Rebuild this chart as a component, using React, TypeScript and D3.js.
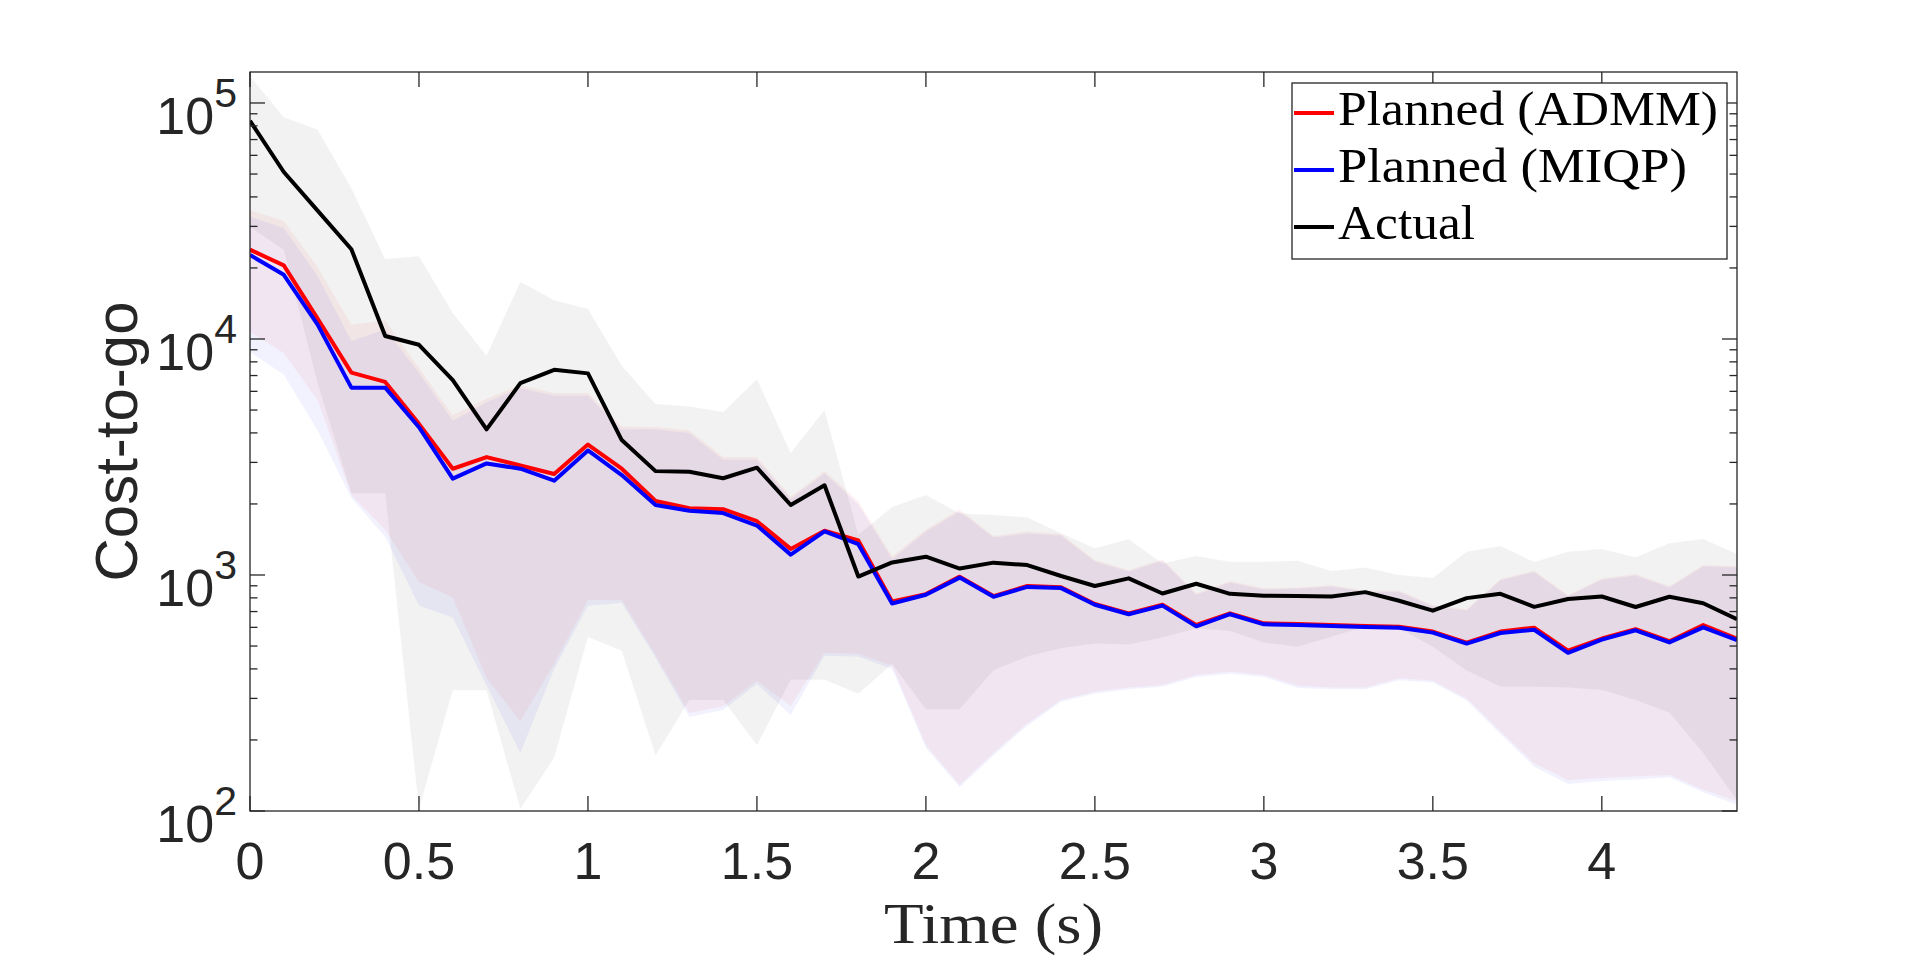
import * as d3 from 'd3';

// time samples (s)
const time = [
  0, 0.1, 0.2, 0.3, 0.4, 0.5, 0.6, 0.7, 0.8, 0.9, 1, 1.1, 1.2, 1.3, 1.4,
  1.5, 1.6, 1.7, 1.8, 1.9, 2, 2.1, 2.2, 2.3, 2.4, 2.5, 2.6, 2.7, 2.8, 2.9,
  3, 3.1, 3.2, 3.3, 3.4, 3.5, 3.6, 3.7, 3.8, 3.9, 4, 4.1, 4.2, 4.3, 4.4,
];

// mean curves
const actual = [
  84000, 51000, 35000, 24000, 10300, 9450, 6700, 4140, 6500, 7400, 7150, 3730,
  2755, 2740, 2570, 2850, 1980, 2400, 985, 1130, 1195, 1065, 1128, 1102, 990,
  898, 968, 835, 918, 832, 816, 815, 811, 846, 778, 706, 798, 832, 733, 791,
  811, 732, 809, 759, 649,
];
const admm = [
  23900, 20500, 12200, 7200, 6580, 4370, 2820, 3160, 2910, 2680, 3570, 2820,
  2060, 1920, 1900, 1690, 1290, 1540, 1400, 773, 830, 984, 814, 898, 887, 754,
  688, 748, 614, 688, 624, 620, 614, 608, 604, 576, 517, 576, 598, 478, 538,
  589, 524, 614, 538,
];
const miqp = [
  22700, 18700, 11500, 6220, 6220, 4230, 2560, 2970, 2820, 2510, 3370, 2650,
  1980, 1870, 1830, 1620, 1220, 1530, 1350, 757, 825, 975, 808, 890, 880, 748,
  682, 742, 606, 682, 618, 614, 608, 602, 598, 570, 512, 568, 586, 468, 532,
  583, 518, 600, 530,
];

// spread bands (upper / lower)
const actualUpper = [
  130000, 87000, 77000, 43500, 21800, 22400, 12900, 8500, 17500, 14600, 13400,
  7700, 5300, 5170, 4900, 6760, 3290, 5000, 1480, 1940, 2180, 1824, 1795, 1754,
  1502, 1298, 1416, 1120, 1204, 1138, 1138, 1150, 1040, 1077, 1000, 970, 1256,
  1327, 1135, 1256, 1290, 1188, 1362, 1421, 1228,
];
const actualLower = [
  29800, 23800, 6500, 2220, 2220, 102, 325, 325, 102, 168, 546, 478, 172, 295,
  295, 190, 360, 360, 314, 420, 270, 270, 395, 451, 489, 513, 508, 544, 595,
  579, 517, 497, 548, 604, 595, 497, 394, 336, 336, 334, 326, 295, 261, 176,
  111,
];
const admmUpper = [
  35200, 31600, 20200, 11500, 12000, 7530, 4750, 5600, 6380, 5900, 5900, 4260,
  4240, 4110, 3160, 3160, 2150, 2760, 2060, 1200, 1560, 1897, 1462, 1527, 1493,
  1158, 1050, 1165, 836, 943, 878, 886, 904, 859, 859, 746, 716, 961, 1043,
  822, 968, 1009, 898, 1101, 1091,
];
const admmLower = [
  10700, 8700, 5500, 2180, 1550, 935, 800, 365, 240, 420, 783, 783, 457, 260,
  278, 356, 278, 468, 463, 413, 190, 129, 176, 235, 295, 320, 334, 342, 377,
  389, 377, 339, 334, 334, 365, 356, 300, 217, 159, 135, 138, 140, 142, 123,
  110,
];
const miqpUpper = [
  33000, 29500, 18500, 9800, 11000, 7200, 4500, 5400, 6200, 5750, 5750, 4150,
  4150, 4000, 3080, 3080, 2100, 2700, 2000, 1170, 1530, 1860, 1440, 1500, 1470,
  1140, 1035, 1150, 825, 930, 868, 876, 893, 850, 850, 738, 708, 950, 1030,
  812, 955, 995, 886, 1088, 1078,
];
const miqpLower = [
  8800, 7050, 4100, 2120, 1450, 740, 660, 340, 176, 400, 740, 760, 445, 250,
  268, 345, 255, 455, 450, 400, 185, 126, 172, 230, 290, 314, 328, 336, 370,
  382, 370, 332, 328, 328, 358, 350, 294, 212, 154, 130, 134, 136, 139, 120,
  106,
];

const xTicks = [0, 0.5, 1, 1.5, 2, 2.5, 3, 3.5, 4];
const xTickLabels = ['0', '0.5', '1', '1.5', '2', '2.5', '3', '3.5', '4'];
const yTicks = [100, 1000, 10000, 100000];
const yTickExp = ['2', '3', '4', '5'];

const legendItems = [
  { label: 'Planned (ADMM)', color: '#ff0000', len: 380 },
  { label: 'Planned (MIQP)', color: '#0000ff', len: 349 },
  { label: 'Actual', color: '#000000', len: 137 },
];

const width = 1920;
const height = 963;
const left = 250;
const right = 1737;
const top = 72;
const bottom = 811;
const axisColor = '#262626';
const majorLen = 15;
const minorLen = 7.5;

const x = d3.scaleLinear().domain([0, 4.4]).range([left, right]);
const y = d3.scaleLog().domain([100, 135300]).range([bottom, top]);

const minorTicks = y.ticks().filter((v) => !yTicks.includes(v) && v < 135300);

function band(upper: number[], lower: number[]) {
  return d3
    .area<number>()
    .x((d, i) => x(time[i]))
    .y0((d, i) => y(lower[i]))
    .y1((d) => y(d))(upper) as string;
}

function curve(values: number[]) {
  return d3
    .line<number>()
    .x((d, i) => x(time[i]))
    .y((d) => y(d))(values) as string;
}

const App = () => {
  return (
    <svg
      width={width}
      height={height}
      viewBox={`0 0 ${width} ${height}`}
      style={{ position: 'absolute', left: 0, top: 0, background: '#fff' }}
    >
      <rect x={0} y={0} width={width} height={height} fill="#fff" />
      <defs>
        <clipPath id="plotArea">
          <rect x={left} y={top} width={right - left} height={bottom - top} />
        </clipPath>
      </defs>

      <g clipPath="url(#plotArea)">
        <path d={band(actualUpper, actualLower)} fill="#000" fillOpacity={0.05} />
        <path d={band(admmUpper, admmLower)} fill="#ff0000" fillOpacity={0.05} />
        <path d={band(miqpUpper, miqpLower)} fill="#0000ff" fillOpacity={0.05} />

        <path d={curve(admm)} fill="none" stroke="#ff0000" strokeWidth={4} strokeLinejoin="round" />
        <path d={curve(miqp)} fill="none" stroke="#0000ff" strokeWidth={4} strokeLinejoin="round" />
        <path d={curve(actual)} fill="none" stroke="#000" strokeWidth={4} strokeLinejoin="round" />
      </g>

      {/* axes box */}
      <rect
        x={left}
        y={top}
        width={right - left}
        height={bottom - top}
        fill="none"
        stroke={axisColor}
        strokeWidth={1.3}
      />

      {/* x ticks, bottom and top */}
      {xTicks.map((t, i) => (
        <g key={'xt' + i} stroke={axisColor} strokeWidth={1.3}>
          <line x1={x(t)} x2={x(t)} y1={bottom} y2={bottom - majorLen} />
          <line x1={x(t)} x2={x(t)} y1={top} y2={top + majorLen} />
        </g>
      ))}
      {xTicks.map((t, i) => (
        <text
          key={'xl' + i}
          x={x(t)}
          y={879}
          textAnchor="middle"
          fontFamily="'Liberation Sans', Arial, sans-serif"
          fontSize={52}
          fill={axisColor}
        >
          {xTickLabels[i]}
        </text>
      ))}

      {/* y ticks, left and right */}
      {yTicks.map((t, i) => (
        <g key={'yt' + i} stroke={axisColor} strokeWidth={1.3}>
          <line x1={left} x2={left + majorLen} y1={y(t)} y2={y(t)} />
          <line x1={right} x2={right - majorLen} y1={y(t)} y2={y(t)} />
        </g>
      ))}
      {minorTicks.map((t, i) => (
        <g key={'ym' + i} stroke={axisColor} strokeWidth={1.3}>
          <line x1={left} x2={left + minorLen} y1={y(t)} y2={y(t)} />
          <line x1={right} x2={right - minorLen} y1={y(t)} y2={y(t)} />
        </g>
      ))}
      {yTicks.map((t, i) => (
        <text
          key={'yl' + i}
          x={237}
          y={y(t) + 31}
          textAnchor="end"
          fontFamily="'Liberation Sans', Arial, sans-serif"
          fontSize={52}
          fill={axisColor}
        >
          10
          <tspan fontSize={41} dy={-27}>
            {yTickExp[i]}
          </tspan>
        </text>
      ))}

      {/* axis labels */}
      <text
        transform={`translate(137, ${(top + bottom) / 2}) rotate(-90)`}
        textAnchor="middle"
        fontFamily="'Liberation Sans', Arial, sans-serif"
        fontSize={60}
        fill={axisColor}
      >
        Cost-to-go
      </text>
      <text
        x={(left + right) / 2}
        y={943}
        textAnchor="middle"
        fontFamily="'Liberation Serif', 'Times New Roman', serif"
        fontSize={56}
        textLength={219}
        lengthAdjust="spacingAndGlyphs"
        fill={axisColor}
      >
        Time (s)
      </text>

      {/* legend */}
      <rect x={1292} y={83} width={435} height={176} fill="#fff" stroke={axisColor} strokeWidth={1.3} />
      {legendItems.map((d, i) => (
        <g key={'lg' + i}>
          <line
            x1={1294}
            x2={1334}
            y1={113 + i * 57}
            y2={113 + i * 57}
            stroke={d.color}
            strokeWidth={4}
          />
          <text
            x={1338}
            y={125 + i * 57}
            fontFamily="'Liberation Serif', 'Times New Roman', serif"
            fontSize={48}
            textLength={d.len}
            lengthAdjust="spacingAndGlyphs"
            fill="#000"
          >
            {d.label}
          </text>
        </g>
      ))}
    </svg>
  );
};

export default App;
